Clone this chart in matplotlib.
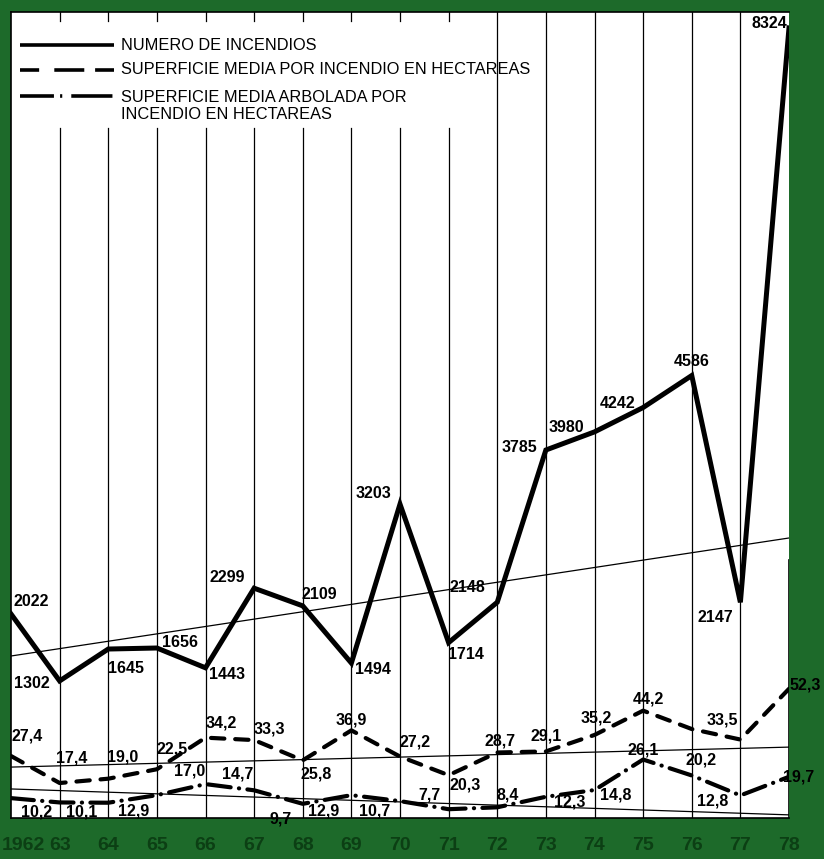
import matplotlib
matplotlib.use('Agg')
import matplotlib.pyplot as plt
from matplotlib.transforms import ScaledTranslation

# ---------------- data ----------------
years = list(range(1962, 1979))
year_labels = ['1962', '63', '64', '65', '66', '67', '68', '69', '70',
               '71', '72', '73', '74', '75', '76', '77', '78']

fires = [2022, 1302, 1645, 1656, 1443, 2299, 2109, 1494, 3203, 1714,
         2148, 3785, 3980, 4242, 4586, 2147, 8324]
fires_labels = ['2022', '1302', '1645', '1656', '1443', '2299', '2109', '1494',
                '3203', '1714', '2148', '3785', '3980', '4242', '4586', '2147', '8324']

area_mean = [27.4, 17.4, 19.0, 22.5, 34.2, 33.3, 25.8, 36.9, 27.2, 20.3,
             28.7, 29.1, 35.2, 44.2, 37.4, 33.5, 52.3]
area_mean_labels = ['27,4', '17,4', '19,0', '22,5', '34,2', '33,3', '25,8', '36,9',
                    '27,2', '20,3', '28,7', '29,1', '35,2', '44,2', None, '33,5', '52,3']

area_wooded = [11.8, 10.2, 10.1, 12.9, 17.0, 14.7, 9.7, 12.9, 10.7, 7.7,
               8.4, 12.3, 14.8, 26.1, 20.2, 12.8, 19.7]
area_wooded_labels = [None, '10,2', '10,1', '12,9', '17,0', '14,7', '9,7', '12,9',
                      '10,7', '7,7', '8,4', '12,3', '14,8', '26,1', '20,2', '12,8', '19,7']

# trend lines (values at 1962 and 1978)
trend_years = [1962, 1978]
fires_trend = [1570, 2839]
area_mean_trend = [23.3, 30.7]
area_wooded_trend = [15.2, 5.6]

legend_texts = ['NUMERO DE INCENDIOS',
                'SUPERFICIE MEDIA POR INCENDIO EN HECTAREAS',
                'SUPERFICIE MEDIA ARBOLADA POR\nINCENDIO EN HECTAREAS']

# ---------------- layout / style ----------------
W, H = 824, 859
GREEN = '#1d6a2a'
TICKGREEN = '#0c3f14'
FONT = 'Liberation Sans'

# label offsets in pixels (dx, dy up)
fires_off = [(20, 12), (-28, -3), (18, -19), (23, 6), (21, -7), (-27, 11), (17, 11),
             (22, -6), (-27, 11), (17, -12), (-30, 15), (-26, 3), (-28, 4), (-25, 4),
             (0, 14), (-25, -15), (-20, 4)]
mean_off = [(16, 20), (12, 25), (14, 22), (15, 20), (16, 15), (15, 11), (13, -14),
            (0, 10), (15, 15), (17, -10), (3, 12), (0, 15), (2, 17), (5, 12),
            (0, 0), (-18, 20), (16, 4)]
wood_off = [(0, 0), (-23, -10), (-27, -9), (-23, -16), (-16, 13), (-16, 16), (-22, -15),
            (-28, -16), (-25, -10), (-19, 14), (10, 12), (24, -5), (21, -5), (0, 10),
            (9, 15), (-28, -6), (10, 0)]

fig = plt.figure(figsize=(W / 100, H / 100), dpi=100, facecolor=GREEN)
px_l, px_r, px_t, px_b = 11, 789, 12, 818
ax = fig.add_axes([px_l / W, (H - px_b) / H, (px_r - px_l) / W, (px_b - px_t) / H])
ax.set_facecolor('white')
ax.set_xlim(1962, 1978)
ax.set_ylim(-172, 8495)
ax2 = ax.twinx()
ax2.set_ylim(4.44, 303)

def fy(p):
    return (px_b - p) / (px_b - px_t)

def fx(p):
    return (p - px_l) / (px_r - px_l)

# vertical grid lines
for yr in years[1:-1]:
    if yr <= 1971:
        ax.axvline(yr, 0, fy(128), color='black', lw=0.9, zorder=1)
        ax.axvline(yr, fy(21), 1, color='black', lw=0.9, zorder=1)
    else:
        ax.axvline(yr, 0, 1, color='black', lw=0.9, zorder=1)
ax.axvline(1978, 0, fy(560), color='black', lw=1.2, zorder=1)

# trend lines
ax.plot(trend_years, fires_trend, color='black', lw=0.9, zorder=2)
ax2.plot(trend_years, area_mean_trend, color='black', lw=0.9, zorder=2)
ax2.plot(trend_years, area_wooded_trend, color='black', lw=0.9, zorder=2)

# series
dash_ls = (0, (3.2, 2.6))
dashdot_ls = (0, (5.5, 2.0, 0.05, 2.0))
ax.plot(years, fires, color='black', lw=3.6, solid_joinstyle='miter', zorder=3)
ax2.plot(years, area_mean, color='black', lw=3.0, linestyle=dash_ls,
         dash_capstyle='round', zorder=3)
ax2.plot(years, area_wooded, color='black', lw=3.0, linestyle=dashdot_ls,
         dash_capstyle='round', zorder=3)

lab_kw = dict(textcoords='offset pixels', ha='center', va='center',
              fontsize=11.5, fontweight='bold', family=FONT, color='black', zorder=5)
for x, v, t, o in zip(years, fires, fires_labels, fires_off):
    a = ax.annotate(t, (x, v), xytext=o, **lab_kw)
    if t == '8324':
        a.set_clip_on(True)
for x, v, t, o in zip(years, area_mean, area_mean_labels, mean_off):
    if t:
        ax2.annotate(t, (x, v), xytext=o, **lab_kw)
for x, v, t, o in zip(years, area_wooded, area_wooded_labels, wood_off):
    if t:
        ax2.annotate(t, (x, v), xytext=o, **lab_kw)

# legend (drawn manually)
tr = ax.transAxes
ax.plot([fx(20), fx(114)], [fy(45), fy(45)], transform=tr, color='black', lw=2.6,
        solid_capstyle='butt')
ax.plot([fx(20), fx(114)], [fy(70), fy(70)], transform=tr, color='black', lw=2.6,
        linestyle=(0, (5.3, 4.2, 8.3, 3.0)), dash_capstyle='butt')
ax.plot([fx(20), fx(114)], [fy(96), fy(96)], transform=tr, color='black', lw=2.6,
        linestyle=(0, (9.4, 1.7, 0.6, 2.5, 11.4, 5.0)), dash_capstyle='butt')
leg_kw = dict(transform=tr, ha='left', va='center', fontsize=11.8, family=FONT,
              color='black')
ax.text(fx(121), fy(45), legend_texts[0], **leg_kw)
ax.text(fx(121), fy(70), legend_texts[1], **leg_kw)
ax.text(fx(121), fy(106), legend_texts[2], linespacing=1.2, **leg_kw)

# axes styling
for s in ['left', 'bottom', 'top']:
    ax.spines[s].set_color('black')
    ax.spines[s].set_linewidth(1.2)
ax.spines['right'].set_visible(False)
for s in ax2.spines.values():
    s.set_visible(False)
ax.set_yticks([])
ax2.set_yticks([])
ax.set_xticks(years)
ax.set_xticklabels(year_labels, fontsize=14, fontweight='bold', family=FONT,
                   color=TICKGREEN)
ax.tick_params(axis='x', length=0, pad=14)
first = ax.get_xticklabels()[0]
first.set_transform(first.get_transform() + ScaledTranslation(12 / 100, 0, fig.dpi_scale_trans))

fig.savefig('out.png', dpi=100, facecolor=GREEN)
